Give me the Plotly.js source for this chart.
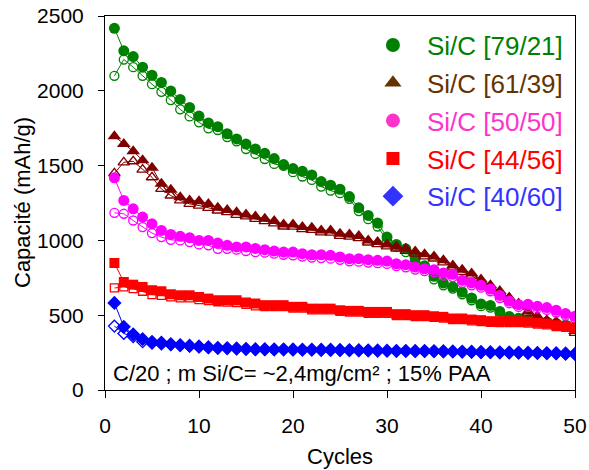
<!DOCTYPE html>
<html>
<head>
<meta charset="utf-8">
<script src="https://cdn.plot.ly/plotly-3.0.1.min.js"></script>
<style>html,body{margin:0;padding:0;background:#fff;}#chart{width:589px;height:470px;}</style>
</head>
<body>
<div id="chart"></div>
<script>
const cycles = Array.from({length: 50}, (_, i) => i + 1);

const seriesNames = ["Si/C [79/21]", "Si/C [61/39]", "Si/C [50/50]", "Si/C [44/56]", "Si/C [40/60]"];

const g79_filled = [2418,2267,2229,2158,2104,2056,1998,1942,1889,1831,1785,1760,1713,1678,1644,1611,1582,1547,1507,1480,1462,1438,1393,1369,1342,1293,1218,1167,1116,1022,973,944,880,830,760,715,690,655,615,575,565,525,492,480,470,462,455,445,435,420];
const g79_open = [2100,2209,2158,2100,2044,1993,1938,1876,1829,1789,1749,1738,1691,1662,1611,1578,1544,1511,1498,1456,1427,1404,1360,1333,1316,1278,1196,1142,1093,1000,956,922,860,811,740,700,678,640,600,560,551,511,478,471,462,455,448,438,428,412];

const g61_filled = [1696,1644,1596,1536,1486,1378,1338,1289,1267,1262,1244,1218,1204,1189,1173,1160,1144,1129,1107,1107,1089,1084,1067,1067,1044,1040,1029,1000,989,973,960,944,925,907,893,867,833,804,778,738,700,662,618,578,525,493,467,456,430,395];
const g61_open = [1449,1522,1529,1473,1422,1344,1300,1267,1244,1233,1218,1200,1189,1171,1160,1144,1129,1114,1093,1092,1075,1070,1053,1052,1030,1025,1015,986,975,960,946,930,912,893,879,853,820,790,765,725,688,650,606,566,512,480,456,445,418,382];

const g50_filled = [1418,1267,1211,1156,1111,1067,1040,1027,1018,1000,1000,982,967,956,956,946,938,929,922,922,911,904,904,900,889,878,878,871,867,862,844,838,822,811,804,782,773,733,716,700,675,632,595,570,573,560,551,533,511,493];
const g50_open = [1184,1178,1133,1089,1049,1022,1004,1000,989,973,967,944,944,938,929,922,918,911,904,900,892,885,882,878,870,860,858,852,848,843,828,820,805,795,787,765,755,716,700,684,660,615,580,555,556,545,535,518,497,478];

const g44_filled = [849,722,704,689,667,660,640,633,633,622,611,600,600,600,585,578,567,567,567,556,556,544,544,544,533,529,529,522,522,522,507,507,500,500,493,489,478,478,471,467,460,460,460,460,456,449,444,433,427,418];
const g44_open = [682,689,678,660,638,633,622,616,616,604,598,590,588,585,572,562,558,558,558,547,547,536,535,535,525,520,520,513,513,512,498,498,491,491,485,480,470,470,462,458,452,451,451,451,447,440,435,424,418,409];

const g40_filled = [582,422,371,340,322,316,307,300,296,291,286,282,280,278,275,273,273,272,272,271,270,270,269,269,268,267,266,265,264,263,262,262,261,261,260,259,258,257,256,254,253,252,251,250,249,248,247,246,244,242];
const g40_open = [427,378,356,322,312,308,303,297,293,288,283,279,277,275,272,270,270,269,269,268,267,267,266,266,265,264,263,262,261,260,259,259,258,258,257,256,255,254,253,251,250,249,248,247,246,245,244,243,241,239];

const xTicks = [0,10,20,30,40,50];
const yTicks = [0,500,1000,1500,2000,2500];

const dataColors = ["#008000", "#800000", "#FF00FF", "#FF0000", "#0000FF"];
const legendColors = ["#008000", "#663300", "#FF33CC", "#FF0000", "#3333FF"];
const filledSets = [g79_filled, g61_filled, g50_filled, g44_filled, g40_filled];
const openSets = [g79_open, g61_open, g50_open, g44_open, g40_open];
const symbols = ["circle", "triangle-up", "circle", "square", "diamond"];
const fSizes = [11, 12, 11, 10, 11];
const oSizes = [9, 10, 9, 8, 9];
const legSizes = [14, 15, 14, 13, 16];

const traces = [];
for (let i = 0; i < 5; i++) {
  traces.push({
    x: cycles, y: openSets[i], type: "scatter", mode: "lines+markers",
    showlegend: false, hoverinfo: "skip",
    line: {color: dataColors[i], width: 1},
    marker: {symbol: symbols[i] + "-open", size: oSizes[i], color: dataColors[i], line: {color: dataColors[i], width: 1.3}}
  });
  traces.push({
    x: cycles, y: filledSets[i], type: "scatter", mode: "lines+markers",
    showlegend: false, hoverinfo: "skip",
    line: {color: dataColors[i], width: 1},
    marker: {symbol: symbols[i], size: fSizes[i], color: dataColors[i]}
  });
}
for (let i = 0; i < 5; i++) {
  traces.push({
    x: [null], y: [null], type: "scatter", mode: "markers",
    name: '<span style="color:' + legendColors[i] + '">' + seriesNames[i] + '</span>',
    legendgroup: "g" + i,
    marker: {symbol: symbols[i], size: legSizes[i], color: legendColors[i]}
  });
}

const layout = {
  width: 589, height: 470,
  margin: {l: 105, r: 14, t: 16, b: 80},
  paper_bgcolor: "#fff", plot_bgcolor: "#fff",
  font: {family: "Liberation Sans, Arial, sans-serif", color: "#000", size: 21},
  showlegend: true,
  legend: {
    x: 0.985, xanchor: "right", y: 0.985, yanchor: "top",
    bgcolor: "rgba(0,0,0,0)", borderwidth: 0,
    font: {size: 26},
    traceorder: "grouped", tracegroupgap: 1,
    itemsizing: "trace", itemwidth: 58
  },
  xaxis: {
    range: [0, 50], tickvals: xTicks, ticktext: xTicks.map(String),
    showgrid: false, zeroline: false,
    showline: true, linecolor: "#000", linewidth: 1, mirror: true,
    ticks: "outside", ticklen: 7, tickcolor: "#000",
    tickfont: {size: 21}, ticklabelstandoff: 10
  },
  yaxis: {
    range: [0, 2500], tickvals: yTicks, ticktext: yTicks.map(String),
    showgrid: false, zeroline: false,
    showline: true, linecolor: "#000", linewidth: 1, mirror: true,
    ticks: "outside", ticklen: 6, tickcolor: "#000",
    tickfont: {size: 21}, ticklabelstandoff: 10
  },
  annotations: [
    {
      xref: "paper", yref: "paper", x: 0.013, y: 0.005, xanchor: "left", yanchor: "bottom",
      text: "C/20 ; m Si/C= ~2,4mg/cm² ; 15% PAA", showarrow: false,
      font: {size: 22, color: "#000"}
    },
    {
      xref: "paper", yref: "paper", x: 0.5, y: 0, xanchor: "center", yanchor: "middle",
      yshift: -66, text: "Cycles", showarrow: false, font: {size: 22, color: "#000"}
    },
    {
      xref: "paper", yref: "paper", x: 0, y: 0.5, xanchor: "center", yanchor: "middle",
      xshift: -83, textangle: -90, text: "Capacité (mAh/g)", showarrow: false, font: {size: 22, color: "#000"}
    }
  ]
};

Plotly.newPlot("chart", traces, layout, {staticPlot: true, displayModeBar: false});
</script>
</body>
</html>
